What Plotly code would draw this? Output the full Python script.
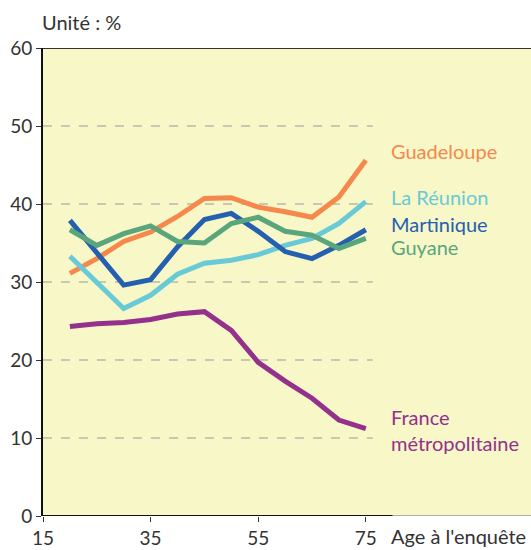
import plotly.graph_objects as go

ages = [20, 25, 30, 35, 40, 45, 50, 55, 60, 65, 70, 75]
guadeloupe = [31.1, 33.0, 35.2, 36.4, 38.4, 40.7, 40.8, 39.6, 39.0, 38.3, 40.9, 45.6]
reunion = [33.3, 30.0, 26.6, 28.3, 31.0, 32.4, 32.8, 33.5, 34.7, 35.6, 37.5, 40.3]
martinique = [37.9, 33.7, 29.6, 30.3, 34.5, 38.0, 38.8, 36.5, 33.9, 33.0, 34.7, 36.7]
guyane = [36.7, 34.7, 36.2, 37.2, 35.2, 35.0, 37.5, 38.3, 36.5, 36.0, 34.3, 35.6]
france = [24.3, 24.65, 24.8, 25.2, 25.9, 26.2, 23.8, 19.7, 17.3, 15.1, 12.3, 11.2]

series_names = ["Guadeloupe", "La Réunion", "Martinique", "Guyane", "France<br>métropolitaine"]
series_values = [guadeloupe, reunion, martinique, guyane, france]
series_colors = ["#F5884A", "#68CAD6", "#2560B0", "#5AA67C", "#93318C"]
label_y = [46.8, 40.9, 37.4, 34.5, 11.0]

x_ticks = [15, 35, 55, 75]
y_ticks = [0, 10, 20, 30, 40, 50, 60]
grid_y = [10, 20, 30, 40, 50]

FONT = "Lato"
TXT = "#333333"

fig = go.Figure()
for name, vals, col in zip(series_names, series_values, series_colors):
    fig.add_trace(go.Scatter(x=ages, y=vals, mode="lines", name=name,
                             line=dict(color=col, width=5), hoverinfo="skip"))

shapes = []
for g in grid_y:
    shapes.append(dict(type="line", xref="x", yref="y", x0=15, x1=76.3, y0=g, y1=g,
                       line=dict(color="#999999", width=1, dash="dash"), layer="below"))
shapes.append(dict(type="line", xref="x", yref="y", x0=15, x1=80, y0=0, y1=0,
                   line=dict(color="#111111", width=2)))
shapes.append(dict(type="line", xref="x", yref="y", x0=80, x1=106, y0=0, y1=0,
                   line=dict(color="#999999", width=1.5)))
shapes.append(dict(type="line", xref="paper", yref="y", x0=0, x1=1, y0=60, y1=60,
                   line=dict(color="#333333", width=2)))

annotations = []
for name, yv, col in zip(series_names, label_y, series_colors):
    annotations.append(dict(x=79.3, y=yv, xref="x", yref="y", text=name, showarrow=False,
                            xanchor="left", yanchor="middle", align="left",
                            font=dict(family=FONT, size=20, color=col)))
annotations.append(dict(x=79.3, y=-0.0427, xref="x", yref="paper", text="Age à l'enquête",
                        showarrow=False, xanchor="left", yanchor="middle",
                        font=dict(family=FONT, size=20, color=TXT)))
annotations.append(dict(x=-0.006, y=1.0556, xref="paper", yref="paper", text="Unité : %",
                        showarrow=False, xanchor="left", yanchor="middle",
                        font=dict(family=FONT, size=20, color=TXT)))

fig.update_layout(
    width=531, height=550,
    margin=dict(l=43, r=0, t=48, b=34),
    paper_bgcolor="white",
    plot_bgcolor="#F8F7C8",
    showlegend=False,
    font=dict(family=FONT, size=18, color=TXT),
    shapes=shapes,
    annotations=annotations,
    xaxis=dict(range=[15, 105.7], tickvals=x_ticks, ticks="outside", ticklen=5,
               tickcolor="#333333", showgrid=False, zeroline=False, showline=False,
               tickfont=dict(family=FONT, size=19, color=TXT)),
    yaxis=dict(range=[0, 60], tickvals=y_ticks, ticks="outside", ticklen=5,
               tickcolor="#333333", showgrid=False, zeroline=False,
               showline=True, linecolor="#111111", linewidth=2,
               tickfont=dict(family=FONT, size=19, color=TXT)),
)

fig.write_html("out.html", config={"displayModeBar": False},
               post_script="document.body.style.margin='0';document.body.style.overflow='hidden';")
